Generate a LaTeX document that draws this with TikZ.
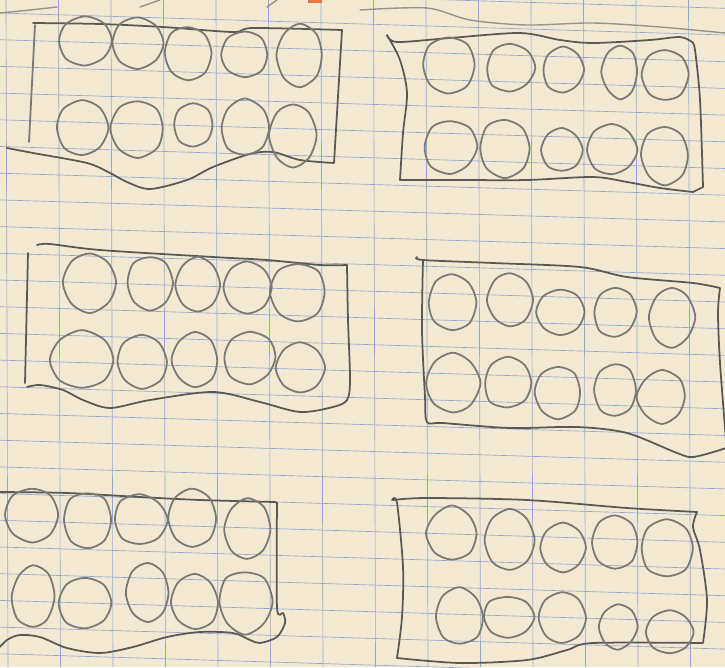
\documentclass[tikz,border=0pt]{standalone}
\usepackage{tikz}
\definecolor{paper}{HTML}{F3E9D3}
\definecolor{gridblue}{HTML}{8FA6D4}
\definecolor{pencil}{HTML}{7A7872}
\definecolor{pencildark}{HTML}{5A5853}
\definecolor{crayon}{HTML}{E0784A}

\begin{document}
\begin{tikzpicture}[x=0.03cm, y=-0.03cm,
  gridln/.style={gridblue, line width=0.55pt},
  frame/.style={pencildark, line width=1.5pt, line cap=round, line join=round},
  blob/.style={pencil, line width=1.5pt},
  faint/.style={pencil!75!paper, line width=1.2pt, line cap=round},
]
\fill[paper] (0,0) rectangle (725,667);
\useasboundingbox (0,0) rectangle (725,667);
\clip (0,0) rectangle (725,667);

% squared paper
\foreach \k in {0,...,13}
  \draw[gridln] (6+52.5*\k,0) -- (8+52.5*\k,667);
\foreach \k in {-1,...,25}
  \draw[gridln] (0,13+26.7*\k) -- (725,13+26.7*\k+22);

% strokes cut by the top edge
\draw[faint] plot[smooth] coordinates {(0,13) (30,10) (57,7)};
\draw[faint] (140,7) -- (160,0);
\draw[faint] (267,7) -- (277,0);
\fill[crayon] (308,0) rectangle (322,3);
\draw[faint] plot[smooth] coordinates {(360,10) (427,8) (470,20) (527,25) (593,23) (660,27) (725,33)};

% frame 1 (top left)
\draw[frame] plot[smooth] coordinates {(33,23) (100,24) (163,27) (233,32) (253,28) (342,30)}
  -- (334,163)
  -- plot[smooth] coordinates {(334,163) (300,160) (273,152) (250,154) (213,167) (187,180) (150,189) (127,182) (110,173) (87,163) (33,153) (7,148)};
\draw[frame, pencil] (35,25) -- (29,142);

% frame 2 (top right)
\draw[frame] plot[smooth] coordinates {(387,35) (397,42) (450,38) (520,33) (560,40) (593,43) (650,40) (680,37) (692,42)}
  -- plot[smooth] coordinates {(692,42) (695,50) (700,100) (703,187)}
  -- plot[smooth] coordinates {(693,192) (660,188) (627,182) (593,177) (527,180) (460,180) (400,180)}
  -- plot[smooth] coordinates {(400,180) (403,133) (407,93) (400,60) (387,35)};

% frame 3 (middle left)
\draw[frame] plot[smooth] coordinates {(37,245) (50,244) (100,250) (213,257) (267,260) (320,265) (347,265)}
  -- plot[smooth] coordinates {(347,265) (348,320) (350,380) (347,400) (333,407) (300,412) (260,402) (213,392) (150,400) (110,408) (83,400) (63,390) (40,385) (27,387)};
\draw[frame] (28,253) -- (25,383);

% frame 4 (middle right, runs off the page)
\draw[frame] plot[smooth] coordinates {(417,257) (423,260) (493,263) (580,267) (627,277) (693,283) (720,288)}
  -- plot[smooth] coordinates {(720,288) (718,313) (720,363) (726,440)};
\draw[frame] plot[smooth] coordinates {(423,260) (422,330) (425,397) (427,422) (443,423) (510,428) (577,427) (627,433) (677,453) (693,457) (720,450) (730,446)};

% frame 5 (bottom left, runs off the page)
\draw[frame] plot[smooth] coordinates {(0,492) (67,493) (140,497) (200,500) (275,502)}
  -- plot[smooth] coordinates {(277,503) (277,607) (283,613) (285,623) (277,637) (260,643) (250,640) (233,633) (200,632) (167,637) (133,647) (100,653) (67,648) (40,637) (20,635) (7,640) (-5,652)};

% frame 6 (bottom right)
\draw[frame] plot[smooth] coordinates {(393,500) (427,498) (527,500) (627,508) (697,512)}
  -- plot[smooth] coordinates {(697,512) (693,527) (700,550) (707,600) (703,643)}
  -- plot[smooth] coordinates {(703,643) (593,643) (567,650) (527,660) (460,663) (397,658)}
  -- plot[smooth] coordinates {(397,658) (402,617) (403,567) (397,503) (392,500)};

% the counters, two rows of five in every frame
\pgfmathsetseed{11}
\foreach \cx/\cy/\rx/\ry in {
  85/41/25/23, 138/43/24/24, 188/53/22/26, 245/55/22/22, 300/55/22/30,
  82/128/24/26, 138/128/25/27, 193/125/19/21, 245/128/23/27, 293/135/22/30,
  448/65/25/27, 510/68/23/23, 563/70/19/22, 620/72/17/25, 665/75/22/25,
  450/147/25/26, 505/148/24/28, 562/150/19/21, 612/150/23/24, 665/155/22/28,
  90/282/25/28, 150/283/22/26, 198/285/21/26, 247/287/23/25, 298/292/26/28,
  82/360/30/28, 142/362/24/25, 195/360/22/26, 250/357/25/25, 300/368/23/24,
  452/302/23/27, 510/300/21/26, 560/312/23/22, 615/312/20/24, 672/317/21/29,
  453/383/25/28, 508/383/23/24, 558/392/22/25, 615/390/20/26, 662/397/23/25,
  32/515/25/26, 88/520/23/27, 140/520/25/24, 192/518/23/27, 247/530/22/29,
  33/597/20/30, 85/603/25/25, 148/593/20/28, 195/602/22/26, 245/602/25/30,
  452/533/24/25, 510/540/23/29, 563/548/21/23, 615/542/22/26, 667/548/25/27,
  460/617/23/27, 508/617/24/20, 562/618/22/25, 618/627/18/21, 670/632/22/20}
  \draw[blob] plot[smooth cycle, samples=8, domain=0:315]
    ({\cx+1.05*\rx*cos(\x)*(1+0.06*rand)}, {\cy+1.05*\ry*sin(\x)*(1+0.06*rand)});
\end{tikzpicture}
\end{document}
